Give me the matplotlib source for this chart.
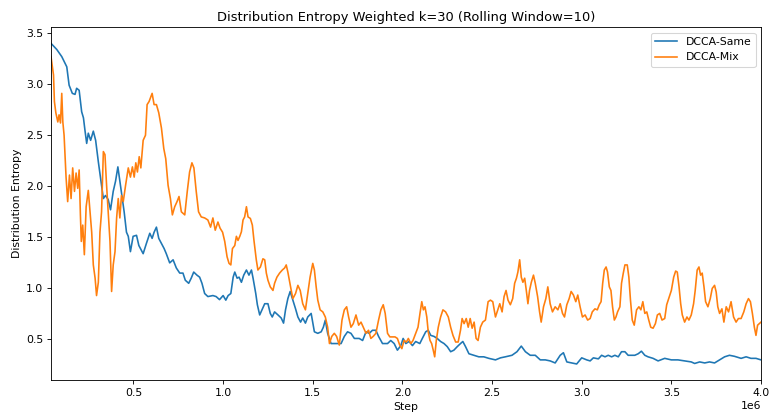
#=========================================================================
# distribution-entropy rolling plot
#=========================================================================

import matplotlib
matplotlib.use('Agg')
import matplotlib.pyplot as plt
import numpy as np

#-------------------------------------------------------------------------
# Figure size / config
#-------------------------------------------------------------------------

dpi        = 78
fig_width  = 769.0 / dpi
fig_height = 420.0 / dpi

plt.rcParams['font.family'] = 'DejaVu Sans'

#-------------------------------------------------------------------------
# Raw data (steps in millions)
#-------------------------------------------------------------------------

same_step = [
  0.04, 0.072, 0.10, 0.128, 0.141, 0.159, 0.174, 0.183, 0.197, 0.211,
  0.221, 0.23, 0.239, 0.248, 0.261, 0.276, 0.289, 0.304, 0.319, 0.332,
  0.344, 0.359, 0.372, 0.387, 0.40, 0.413, 0.424, 0.437, 0.448, 0.461,
  0.471, 0.483, 0.498, 0.517, 0.53, 0.554, 0.572, 0.591, 0.604, 0.615,
  0.628, 0.641, 0.656, 0.671, 0.683, 0.702, 0.721, 0.739, 0.758, 0.776,
  0.789, 0.808, 0.822, 0.836, 0.854, 0.869, 0.882, 0.897, 0.915, 0.943,
  0.961, 0.98, 1.0, 1.015, 1.028, 1.043, 1.056, 1.065, 1.078, 1.089,
  1.102, 1.115, 1.13, 1.144, 1.158, 1.167, 1.182, 1.191, 1.204, 1.219,
  1.232, 1.25, 1.263, 1.274, 1.287, 1.306, 1.324, 1.337, 1.348, 1.361,
  1.374, 1.389, 1.404, 1.417, 1.432, 1.444, 1.459, 1.472, 1.491, 1.509,
  1.528, 1.547, 1.559, 1.57, 1.583, 1.602, 1.63, 1.658, 1.676, 1.694,
  1.713, 1.732, 1.759, 1.778, 1.797, 1.815, 1.833, 1.852, 1.867, 1.889,
  1.917, 1.935, 1.954, 1.972, 1.991, 2.004, 2.019, 2.037, 2.056, 2.074,
  2.097, 2.111, 2.13, 2.144, 2.158, 2.176, 2.194, 2.213, 2.232, 2.25,
  2.269, 2.287, 2.306, 2.324, 2.337, 2.352, 2.371, 2.398, 2.426, 2.454,
  2.482, 2.519, 2.547, 2.574, 2.611, 2.639, 2.663, 2.686, 2.713, 2.741,
  2.769, 2.797, 2.824, 2.852, 2.88, 2.898, 2.917, 2.944, 2.972, 3.0,
  3.028, 3.047, 3.065, 3.093, 3.111, 3.13, 3.148, 3.167, 3.185, 3.204,
  3.222, 3.241, 3.259, 3.296, 3.315, 3.333, 3.352, 3.37, 3.398, 3.426,
  3.463, 3.5, 3.537, 3.574, 3.611, 3.63, 3.658, 3.686, 3.713, 3.741,
  3.769, 3.797, 3.824, 3.852, 3.889, 3.917, 3.944, 3.972, 4.0,
]

same_val = [
  3.40, 3.34, 3.27, 3.17, 2.99, 2.91, 2.90, 2.96, 2.94, 2.73,
  2.67, 2.54, 2.42, 2.52, 2.45, 2.54, 2.45, 2.24, 2.05, 1.88,
  1.91, 1.87, 1.77, 1.95, 2.05, 2.19, 2.05, 1.88, 1.75, 1.55,
  1.51, 1.36, 1.51, 1.52, 1.42, 1.34, 1.44, 1.54, 1.49, 1.55,
  1.60, 1.49, 1.44, 1.39, 1.34, 1.25, 1.28, 1.20, 1.15, 1.15,
  1.08, 1.05, 1.10, 1.16, 1.13, 1.11, 1.05, 0.95, 0.92, 0.93,
  0.92, 0.89, 0.93, 0.885, 0.93, 0.95, 1.11, 1.16, 1.10, 1.11,
  1.06, 1.13, 1.18, 1.13, 1.18, 1.10, 0.95, 0.84, 0.74, 0.80,
  0.85, 0.85, 0.755, 0.72, 0.77, 0.74, 0.71, 0.66, 0.79, 0.90,
  0.97, 0.885, 0.80, 0.72, 0.67, 0.71, 0.66, 0.72, 0.755, 0.575,
  0.56, 0.575, 0.62, 0.69, 0.56, 0.46, 0.46, 0.46, 0.53, 0.575,
  0.56, 0.51, 0.51, 0.49, 0.575, 0.56, 0.59, 0.59, 0.53, 0.46,
  0.46, 0.49, 0.46, 0.395, 0.44, 0.51, 0.46, 0.48, 0.44, 0.48,
  0.46, 0.51, 0.575, 0.59, 0.54, 0.53, 0.51, 0.48, 0.46, 0.43,
  0.38, 0.395, 0.43, 0.46, 0.48, 0.43, 0.36, 0.345, 0.33, 0.33,
  0.315, 0.30, 0.32, 0.33, 0.345, 0.38, 0.435, 0.38, 0.345, 0.345,
  0.30, 0.30, 0.29, 0.27, 0.345, 0.37, 0.28, 0.27, 0.26, 0.32,
  0.30, 0.29, 0.32, 0.31, 0.345, 0.33, 0.345, 0.33, 0.345, 0.33,
  0.38, 0.38, 0.345, 0.345, 0.36, 0.385, 0.345, 0.33, 0.315, 0.29,
  0.315, 0.30, 0.30, 0.29, 0.28, 0.265, 0.28, 0.27, 0.28, 0.27,
  0.30, 0.33, 0.345, 0.335, 0.315, 0.33, 0.315, 0.315, 0.30,
]

mix_step = [
  0.04, 0.054, 0.059, 0.067, 0.078, 0.085, 0.093, 0.10, 0.106, 0.113,
  0.119, 0.124, 0.133, 0.143, 0.152, 0.161, 0.171, 0.18, 0.189, 0.197,
  0.204, 0.209, 0.217, 0.226, 0.236, 0.248, 0.258, 0.267, 0.276, 0.286,
  0.294, 0.304, 0.313, 0.322, 0.332, 0.341, 0.35, 0.359, 0.369, 0.378,
  0.387, 0.397, 0.406, 0.415, 0.424, 0.433, 0.443, 0.456, 0.471, 0.483,
  0.494, 0.504, 0.513, 0.522, 0.532, 0.541, 0.554, 0.567, 0.576, 0.587,
  0.604, 0.615, 0.628, 0.641, 0.656, 0.669, 0.68, 0.693, 0.706, 0.717,
  0.73, 0.743, 0.754, 0.767, 0.786, 0.80, 0.813, 0.826, 0.837, 0.85,
  0.863, 0.878, 0.897, 0.915, 0.93, 0.943, 0.956, 0.971, 0.983, 0.997,
  1.009, 1.022, 1.033, 1.043, 1.052, 1.065, 1.074, 1.083, 1.093, 1.102,
  1.111, 1.12, 1.13, 1.139, 1.152, 1.163, 1.172, 1.185, 1.194, 1.208,
  1.222, 1.232, 1.241, 1.25, 1.263, 1.278, 1.287, 1.30, 1.315, 1.33,
  1.343, 1.352, 1.361, 1.371, 1.38, 1.389, 1.404, 1.417, 1.43, 1.444,
  1.459, 1.472, 1.485, 1.50, 1.509, 1.519, 1.528, 1.541, 1.556, 1.57,
  1.583, 1.593, 1.606, 1.62, 1.633, 1.648, 1.663, 1.676, 1.689, 1.70,
  1.713, 1.726, 1.741, 1.756, 1.769, 1.782, 1.797, 1.811, 1.824, 1.837,
  1.852, 1.867, 1.88, 1.893, 1.904, 1.917, 1.93, 1.944, 1.959, 1.972,
  1.985, 1.997, 2.009, 2.022, 2.033, 2.047, 2.059, 2.074, 2.087, 2.098,
  2.108, 2.117, 2.126, 2.136, 2.144, 2.154, 2.163, 2.172, 2.18, 2.189,
  2.20, 2.213, 2.226, 2.241, 2.256, 2.269, 2.282, 2.297, 2.311, 2.324,
  2.333, 2.344, 2.356, 2.367, 2.378, 2.389, 2.40, 2.411, 2.422, 2.435,
  2.448, 2.463, 2.478, 2.491, 2.504, 2.519, 2.532, 2.543, 2.556, 2.567,
  2.578, 2.589, 2.602, 2.615, 2.626, 2.636, 2.644, 2.654, 2.663, 2.672,
  2.682, 2.691, 2.70, 2.709, 2.719, 2.731, 2.741, 2.754, 2.765, 2.774,
  2.787, 2.80, 2.811, 2.824, 2.837, 2.852, 2.867, 2.88, 2.893, 2.904,
  2.917, 2.93, 2.941, 2.954, 2.967, 2.978, 2.991, 3.004, 3.019, 3.033,
  3.047, 3.059, 3.074, 3.087, 3.098, 3.108, 3.117, 3.126, 3.136, 3.144,
  3.154, 3.163, 3.172, 3.182, 3.191, 3.20, 3.213, 3.222, 3.232, 3.241,
  3.254, 3.263, 3.272, 3.282, 3.293, 3.306, 3.319, 3.33, 3.341, 3.352,
  3.363, 3.374, 3.385, 3.398, 3.411, 3.422, 3.435, 3.448, 3.463, 3.474,
  3.485, 3.50, 3.513, 3.524, 3.533, 3.543, 3.552, 3.561, 3.574, 3.587,
  3.598, 3.611, 3.624, 3.633, 3.644, 3.654, 3.663, 3.672, 3.682, 3.691,
  3.704, 3.717, 3.728, 3.741, 3.75, 3.759, 3.769, 3.782, 3.793, 3.806,
  3.819, 3.833, 3.847, 3.861, 3.874, 3.889, 3.904, 3.917, 3.93, 3.941,
  3.952, 3.963, 3.972, 3.981, 4.0,
]

mix_val = [
  3.27, 3.09, 2.83, 2.72, 2.63, 2.70, 2.62, 2.91, 2.63, 2.50,
  2.27, 2.09, 1.85, 2.11, 1.88, 2.18, 1.95, 2.13, 1.98, 2.16,
  1.72, 1.46, 1.62, 1.33, 1.80, 1.96, 1.75, 1.55, 1.23, 1.10,
  0.93, 1.06, 1.55, 1.75, 2.34, 2.31, 2.01, 1.75, 1.46, 0.97,
  1.23, 1.36, 1.69, 1.88, 1.69, 1.91, 1.85, 2.01, 2.18, 2.09,
  2.19, 2.09, 2.23, 2.14, 2.29, 2.18, 2.45, 2.50, 2.80, 2.83,
  2.91, 2.80, 2.80, 2.72, 2.57, 2.37, 2.27, 2.01, 1.88, 1.72,
  1.80, 1.85, 1.90, 1.75, 1.72, 1.95, 2.14, 2.23, 2.18, 1.95,
  1.75, 1.70, 1.69, 1.67, 1.60, 1.69, 1.57, 1.65, 1.59, 1.55,
  1.46, 1.31, 1.245, 1.23, 1.39, 1.42, 1.51, 1.47, 1.51, 1.555,
  1.67, 1.70, 1.80, 1.70, 1.685, 1.62, 1.47, 1.28, 1.18, 1.21,
  1.29, 1.28, 1.15, 1.08, 1.015, 0.98, 1.05, 1.11, 1.15, 1.18,
  1.20, 1.23, 1.16, 1.065, 0.98, 0.90, 0.95, 1.03, 0.98, 0.85,
  0.79, 0.95, 1.11, 1.245, 1.18, 1.015, 0.885, 0.79, 0.77, 0.72,
  0.62, 0.46, 0.53, 0.56, 0.53, 0.445, 0.69, 0.79, 0.82, 0.72,
  0.62, 0.655, 0.74, 0.64, 0.67, 0.62, 0.56, 0.59, 0.51, 0.53,
  0.56, 0.69, 0.79, 0.84, 0.755, 0.56, 0.525, 0.525, 0.525, 0.51,
  0.445, 0.41, 0.49, 0.475, 0.51, 0.46, 0.49, 0.56, 0.62, 0.755,
  0.87, 0.79, 0.82, 0.72, 0.575, 0.49, 0.46, 0.395, 0.33, 0.49,
  0.62, 0.72, 0.79, 0.77, 0.72, 0.62, 0.54, 0.475, 0.475, 0.59,
  0.705, 0.655, 0.705, 0.62, 0.705, 0.61, 0.67, 0.51, 0.49, 0.62,
  0.67, 0.69, 0.87, 0.885, 0.87, 0.72, 0.79, 0.85, 0.77, 0.92,
  0.98, 0.885, 0.84, 0.90, 1.05, 1.10, 1.16, 1.28, 1.11, 1.06,
  1.10, 0.98, 0.85, 0.98, 1.06, 1.13, 1.05, 0.92, 0.77, 0.67,
  0.82, 0.90, 1.015, 0.85, 0.77, 0.82, 0.79, 0.85, 0.755, 0.72,
  0.84, 0.90, 0.97, 0.935, 0.87, 0.935, 0.82, 0.72, 0.74, 0.69,
  0.705, 0.77, 0.80, 0.79, 0.84, 0.87, 1.05, 1.18, 1.21, 1.16,
  1.015, 0.98, 0.82, 0.69, 0.72, 0.77, 0.82, 1.05, 1.15, 1.23,
  1.23, 1.11, 0.885, 0.69, 0.64, 0.79, 0.82, 0.79, 0.87, 0.755,
  0.77, 0.69, 0.62, 0.61, 0.655, 0.74, 0.755, 0.69, 0.705, 0.84,
  0.90, 0.98, 1.11, 1.17, 1.16, 1.015, 0.85, 0.74, 0.67, 0.72,
  0.69, 0.74, 0.85, 0.98, 1.18, 1.21, 1.13, 1.15, 1.015, 0.87,
  0.82, 0.90, 1.0, 1.03, 0.965, 0.82, 0.755, 0.80, 0.67, 0.82,
  0.77, 0.87, 0.72, 0.67, 0.705, 0.705, 0.77, 0.85, 0.90, 0.87,
  0.755, 0.62, 0.54, 0.64, 0.67,
]

labels = [ 'DCCA-Same', 'DCCA-Mix' ]

#-------------------------------------------------------------------------
# Create plot
#-------------------------------------------------------------------------

fig = plt.figure( figsize=(fig_width, fig_height), dpi=dpi )
ax  = fig.add_subplot(111)
fig.subplots_adjust( left=51/769., right=761/769., bottom=1-380/420., top=1-27.3/420. )

same_x = np.array( same_step ) * 1e6
mix_x  = np.array( mix_step ) * 1e6

ax.plot( same_x, same_val, color='#1f77b4', label=labels[0] )
ax.plot( mix_x,  mix_val,  color='#ff7f0e', label=labels[1] )

ax.set_xlim( min( same_x[0], mix_x[0] ), max( same_x[-1], mix_x[-1] ) )

ax.set_title( 'Distribution Entropy Weighted k=30 (Rolling Window=10)' )
ax.set_xlabel( 'Step' )
ax.set_ylabel( 'Distribution Entropy' )
ax.legend( loc='upper right' )

plt.savefig( 'out.png', dpi=dpi )
